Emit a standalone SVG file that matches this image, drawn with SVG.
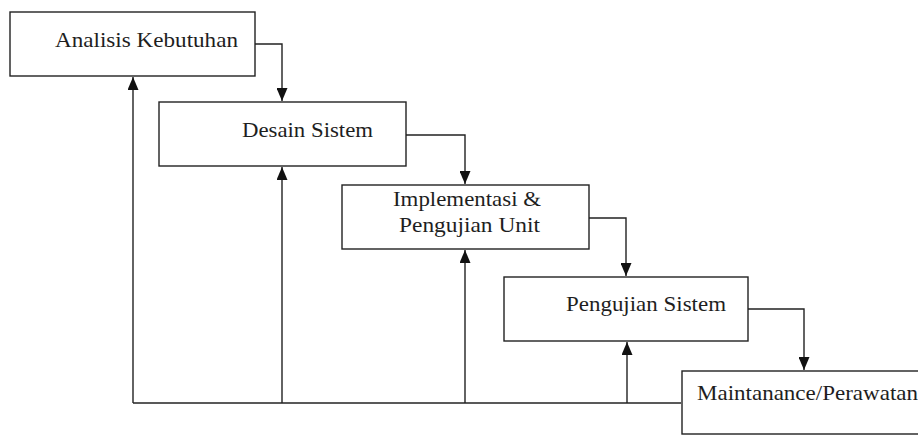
<svg xmlns="http://www.w3.org/2000/svg" width="918" height="435" viewBox="0 0 918 435">
<defs>
<style>
.box{fill:#fff;stroke:#222;stroke-width:1.4}
.con{fill:none;stroke:#222;stroke-width:1.4}
text{font-family:"Liberation Serif","Times New Roman",serif;font-size:21px;fill:#1e1e1e}
</style>
<marker id="ah" viewBox="0 0 13 11" refX="13" refY="5.5" markerWidth="13" markerHeight="11" markerUnits="userSpaceOnUse" orient="auto">
<path d="M0,0 L13,5.5 L0,11 Z" fill="#111"/>
</marker>
</defs>
<rect width="918" height="435" fill="#fff"/>
<g id="connectors">
<path class="con" d="M255,44 H282 V101" marker-end="url(#ah)"/>
<path class="con" d="M406,135 H465 V184" marker-end="url(#ah)"/>
<path class="con" d="M589,218 H626 V276" marker-end="url(#ah)"/>
<path class="con" d="M748,309 H804 V370" marker-end="url(#ah)"/>
<path class="con" d="M681,403 H133"/>
<path class="con" d="M133,403 V77" marker-end="url(#ah)"/>
<path class="con" d="M282,403 V167" marker-end="url(#ah)"/>
<path class="con" d="M465,403 V250" marker-end="url(#ah)"/>
<path class="con" d="M627,403 V342" marker-end="url(#ah)"/>
</g>
<g id="analisis">
<rect class="box" x="10" y="12" width="245" height="64"/>
<text x="55" y="47" textLength="183" lengthAdjust="spacingAndGlyphs">Analisis Kebutuhan</text>
</g>
<g id="desain">
<rect class="box" x="159" y="102" width="247" height="64"/>
<text x="242" y="137" textLength="131" lengthAdjust="spacingAndGlyphs">Desain Sistem</text>
</g>
<g id="implementasi">
<rect class="box" x="342" y="185" width="247" height="64"/>
<text x="393" y="206" textLength="148" lengthAdjust="spacingAndGlyphs">Implementasi &amp;</text>
<text x="399" y="232" textLength="141" lengthAdjust="spacingAndGlyphs">Pengujian Unit</text>
</g>
<g id="pengujian">
<rect class="box" x="504" y="277" width="244" height="64"/>
<text x="566" y="311" textLength="160" lengthAdjust="spacingAndGlyphs">Pengujian Sistem</text>
</g>
<g id="maintenance">
<rect class="box" x="682" y="371" width="260" height="63"/>
<text x="697" y="400" textLength="221" lengthAdjust="spacingAndGlyphs">Maintanance/Perawatan</text>
</g>
</svg>
